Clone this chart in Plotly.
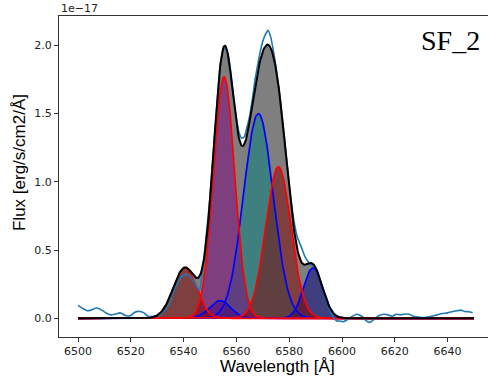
import numpy as np
import plotly.graph_objects as go

spec_wave = [6500, 6502, 6503.5, 6505, 6507, 6509, 6511, 6512.5, 6514, 6516, 6518, 6520,
             6521.5, 6523.5, 6525, 6526.5, 6528.5, 6530, 6531.5, 6533, 6534.5, 6536, 6537.5,
             6539, 6540.5, 6542, 6543.5, 6545, 6546, 6547, 6548, 6549, 6550, 6551, 6552, 6553,
             6554, 6555, 6556, 6557, 6558, 6559, 6560, 6561, 6562, 6563, 6564, 6565, 6566, 6567,
             6568, 6569, 6570, 6571, 6572, 6573, 6574, 6575, 6576, 6577, 6578, 6579, 6580, 6581,
             6582, 6583, 6584, 6585, 6586, 6587, 6588, 6589, 6590, 6591, 6592, 6593, 6594, 6595,
             6596, 6597, 6598, 6599, 6600.5, 6602, 6603.5, 6605.5, 6607.5, 6609, 6610.5, 6612,
             6614, 6616, 6617.5, 6619, 6620.5, 6622, 6623.5, 6625.5, 6627, 6628.5, 6630, 6632,
             6634, 6636, 6638, 6640, 6642, 6643.5, 6645, 6646.5, 6648, 6649.5]
spec_flux = [0.095, 0.07, 0.055, 0.06, 0.075, 0.06, 0.035, 0.025, 0.03, 0.04, 0.02, 0.02,
             0.045, 0.05, 0.04, 0.015, 0.012, 0.015, 0.03, 0.06, 0.10, 0.19, 0.25,
             0.30, 0.32, 0.315, 0.28, 0.23, 0.20, 0.33, 0.50, 0.69, 0.89, 1.14, 1.41, 1.67,
             1.87, 1.97, 1.97, 1.92, 1.78, 1.60, 1.46, 1.36, 1.32, 1.33, 1.40, 1.48, 1.60, 1.74,
             1.85, 1.95, 2.03, 2.08, 2.11, 2.06, 1.96, 1.84, 1.70, 1.54, 1.36, 1.17, 0.98, 0.82,
             0.69, 0.60, 0.55, 0.50, 0.45, 0.42, 0.40, 0.385, 0.37, 0.32, 0.26, 0.19, 0.13, 0.08,
             0.03, 0.0, -0.02, -0.02, -0.025, -0.01, 0.01, 0.03, 0.015, -0.015, -0.03, -0.01,
             0.02, 0.03, 0.025, 0.015, 0.03, 0.025, 0.03, 0.03, 0.015, 0.01, 0.005, 0.008,
             0.015, 0.025, 0.035, 0.04, 0.05, 0.055, 0.06, 0.05, 0.048, 0.04]

# Fitted Gaussian components (centre Å, peak, sigma Å)
narrow_center = [6540.5, 6555.3, 6575.9]
narrow_peak = [0.37, 1.77, 1.11]
narrow_sigma = [4.4, 4.0, 4.8]
narrow_fill = ["rgba(255,0,0,0.5)", "rgba(255,0,255,0.5)", "rgba(255,0,0,0.5)"]

broad_center = [6553.8, 6568.3, 6589.0]
broad_peak = [0.13, 1.50, 0.37]
broad_sigma = [4.0, 5.6, 3.6]
broad_fill = ["rgba(0,0,255,0.5)", "rgba(0,255,255,0.5)", "rgba(0,0,255,0.5)"]

x_ticks = [6500, 6520, 6540, 6560, 6580, 6600, 6620, 6640]
y_ticks = [0.0, 0.5, 1.0, 1.5, 2.0]

grid = np.arange(6500, 6650.001, 0.25)


def gauss(c, a, s):
    return a * np.exp(-(grid - c) ** 2 / (2 * s ** 2))


narrow = [gauss(c, a, s) for c, a, s in zip(narrow_center, narrow_peak, narrow_sigma)]
broad = [gauss(c, a, s) for c, a, s in zip(broad_center, broad_peak, broad_sigma)]
total = np.sum(narrow, axis=0) + np.sum(broad, axis=0)

fig = go.Figure()

# fills
order_b = [1, 0, 2]
for i in order_b:
    fig.add_trace(go.Scatter(x=grid, y=broad[i], mode="none", fill="tozeroy",
                             fillcolor=broad_fill[i], showlegend=False, hoverinfo="skip"))
order_n = [1, 0, 2]
for i in order_n:
    fig.add_trace(go.Scatter(x=grid, y=narrow[i], mode="none", fill="tozeroy",
                             fillcolor=narrow_fill[i], showlegend=False, hoverinfo="skip"))
fig.add_trace(go.Scatter(x=grid, y=total, mode="none", fill="tozeroy",
                         fillcolor="rgba(0,0,0,0.5)", showlegend=False, hoverinfo="skip"))

# lines
for b in broad:
    fig.add_trace(go.Scatter(x=grid, y=b, mode="lines", line=dict(color="#0000ff", width=1.7),
                             showlegend=False))
for n in narrow:
    fig.add_trace(go.Scatter(x=grid, y=n, mode="lines", line=dict(color="#ff0000", width=1.7),
                             showlegend=False))
fig.add_trace(go.Scatter(x=spec_wave, y=spec_flux, mode="lines",
                         line=dict(color="#1f77b4", width=1.6, shape="spline", smoothing=0.6),
                         showlegend=False))
fig.add_trace(go.Scatter(x=grid, y=total, mode="lines", line=dict(color="black", width=2.0),
                         showlegend=False))

fig.update_layout(
    width=488, height=385,
    margin=dict(l=59, r=0, t=16, b=48),
    paper_bgcolor="white", plot_bgcolor="white",
    font=dict(family="DejaVu Sans", size=11, color="#222"),
    xaxis=dict(range=[6492.8, 6655.3], tickvals=x_ticks, ticktext=[str(t) for t in x_ticks],
               showgrid=False, zeroline=False, showline=True, linecolor="#333", linewidth=1,
               mirror=True, ticks="outside", ticklen=4, tickcolor="#333"),
    yaxis=dict(range=[-0.137, 2.215], tickvals=y_ticks, ticktext=[f"{t:.1f}" for t in y_ticks],
               showgrid=False, zeroline=False, showline=True, linecolor="#333", linewidth=1,
               ticks="outside", ticklen=4, tickcolor="#333"),
    annotations=[
        dict(text="Wavelength [Å]", xref="paper", yref="paper", x=0.509, y=-0.055,
             xanchor="center", yanchor="top", showarrow=False,
             font=dict(family="Liberation Sans", size=17, color="black")),
        dict(text="Flux [erg/s/cm2/Å]", xref="paper", yref="paper", x=-0.0932, y=0.542,
             xanchor="center", yanchor="middle", textangle=-90, showarrow=False,
             font=dict(family="Liberation Sans", size=17, color="black")),
        dict(text="1e\u221217", xref="paper", yref="paper", x=0.0, y=1.0,
             xanchor="left", yanchor="bottom", showarrow=False, yshift=-1,
             font=dict(family="DejaVu Sans", size=11, color="#222")),
        dict(text="SF_2", xref="paper", yref="paper", x=0.84, y=0.925,
             xanchor="left", yanchor="middle", showarrow=False,
             font=dict(family="Liberation Serif", size=28, color="black")),
    ],
)

fig.write_html("out.html")
